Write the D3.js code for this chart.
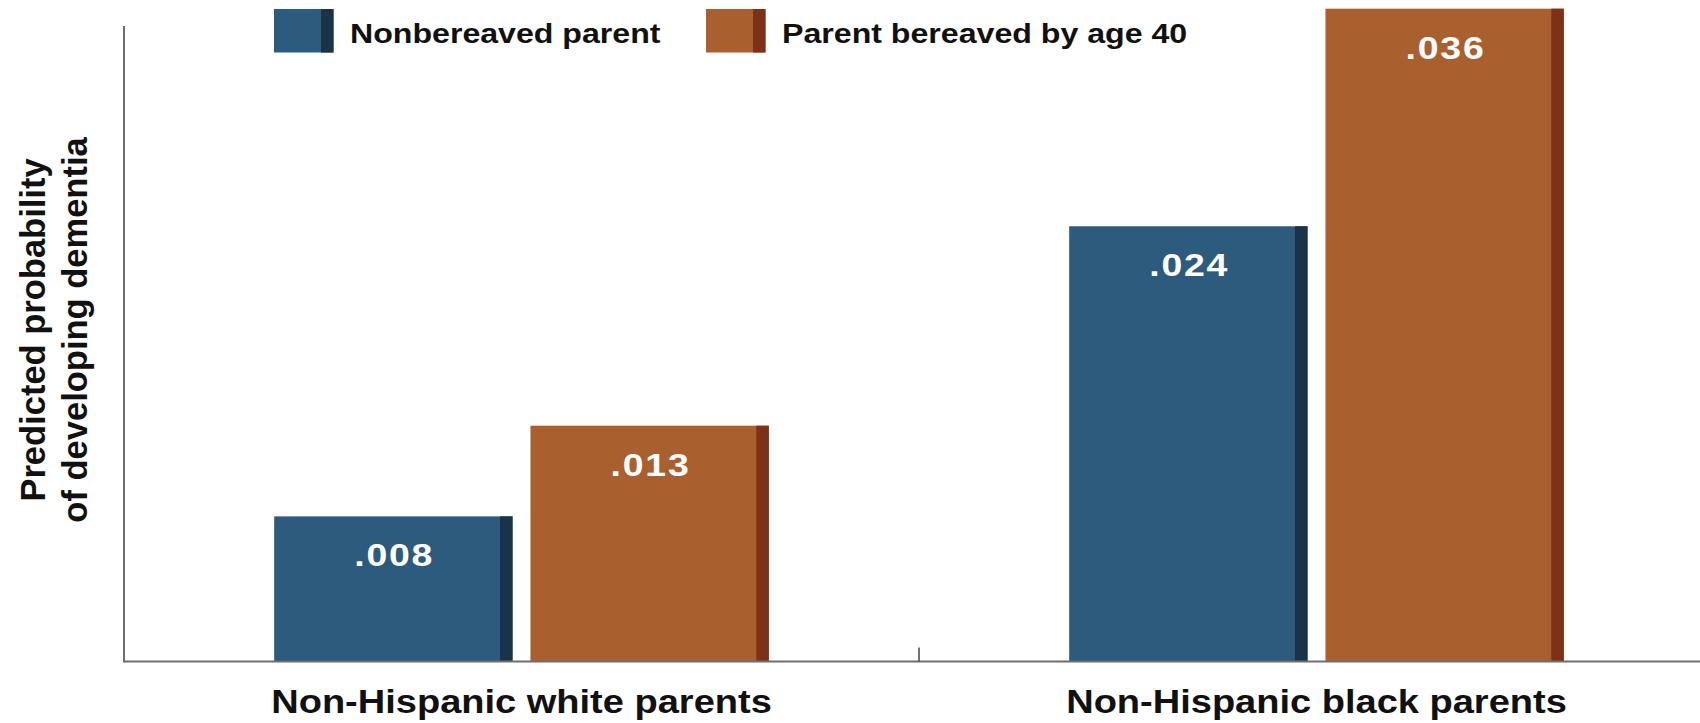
<!DOCTYPE html>
<html>
<head>
<meta charset="utf-8">
<script src="https://cdn.jsdelivr.net/npm/d3@7"></script>
<style>
  html, body { margin: 0; padding: 0; background: #fff; }
  svg { display: block; }
  text { font-family: "Liberation Sans", Arial, Helvetica, sans-serif; font-weight: bold; }
</style>
</head>
<body>
<svg id="chart" width="1700" height="723"></svg>
<script>
// ---- data ----
const groups = ["Non-Hispanic white parents", "Non-Hispanic black parents"];
const seriesNames = ["Nonbereaved parent", "Parent bereaved by age 40"];
const nonbereaved = [0.008, 0.024];
const bereaved = [0.013, 0.036];
const valueLabels = [[".008", ".013"], [".024", ".036"]];
const yTitleLines = ["Predicted probability", "of developing dementia"];

// ---- styles ----
const fills = ["#2d5b7e", "#aa5f2f"];
const stripes = ["#1b3349", "#7d3118"];
const axisColor = "#6e6e6e";

const svg = d3.select("#chart");

const x0 = d3.scaleBand().domain(groups).range([124, 1714]).paddingInner(0).paddingOuter(0);
const x1 = d3.scaleBand().domain(seriesNames).range([0, x0.bandwidth()])
  .paddingInner(0.07).paddingOuter(0.586);
const y = d3.scaleLinear().domain([0, 0.036]).range([661.4, 8.7]);
const yAxisTop = 26;

const rows = groups.map((g, i) => ({
  group: g,
  items: [
    { series: seriesNames[0], value: nonbereaved[i], label: valueLabels[i][0], k: 0 },
    { series: seriesNames[1], value: bereaved[i], label: valueLabels[i][1], k: 1 }
  ]
}));

// bars
const gGroups = svg.selectAll("g.grp").data(rows).join("g")
  .attr("class", "grp")
  .attr("transform", d => `translate(${x0(d.group)},0)`);

const bars = gGroups.selectAll("g.bar").data(d => d.items).join("g").attr("class", "bar");
const stripeW = 12.5;
bars.append("rect")
  .attr("x", d => x1(d.series))
  .attr("y", d => y(d.value))
  .attr("width", x1.bandwidth())
  .attr("height", d => y(0) - y(d.value))
  .attr("fill", d => fills[d.k]);
bars.append("rect")
  .attr("x", d => x1(d.series) + x1.bandwidth() - stripeW)
  .attr("y", d => y(d.value))
  .attr("width", stripeW)
  .attr("height", d => y(0) - y(d.value))
  .attr("fill", d => stripes[d.k]);
bars.append("g")
  .attr("transform", d => `translate(${x1(d.series) + x1.bandwidth() / 2},${y(d.value) + 50}) scale(1.17,1)`)
  .append("text")
  .attr("text-anchor", "middle")
  .attr("font-size", 32)
  .attr("letter-spacing", 1.5)
  .attr("dx", 0.75)
  .attr("fill", "#ffffff")
  .text(d => d.label);

// axes
svg.append("line")
  .attr("x1", x0.range()[0]).attr("x2", 1700)
  .attr("y1", y(0)).attr("y2", y(0))
  .attr("stroke", axisColor).attr("stroke-width", 2);
svg.append("line")
  .attr("x1", x0.range()[0]).attr("x2", x0.range()[0])
  .attr("y1", yAxisTop).attr("y2", y(0) + 1)
  .attr("stroke", axisColor).attr("stroke-width", 2);
// separator tick between groups
svg.append("line")
  .attr("x1", x0(groups[1])).attr("x2", x0(groups[1]))
  .attr("y1", y(0) - 14).attr("y2", y(0))
  .attr("stroke", "#444").attr("stroke-width", 1.5);

// category labels
svg.selectAll("g.cat").data(groups).join("g")
  .attr("class", "cat")
  .attr("transform", d => `translate(${x0(d) + x0.bandwidth() / 2},713) scale(1.17,1)`)
  .append("text")
  .attr("text-anchor", "middle")
  .attr("font-size", 32.5)
  .attr("fill", "#111")
  .text(d => d);

// y title
const yt = svg.append("text")
  .attr("transform", "translate(0,330) rotate(-90)")
  .attr("text-anchor", "middle")
  .attr("font-size", 34.5)
  .attr("fill", "#111");
yt.selectAll("tspan").data(yTitleLines).join("tspan")
  .attr("x", 0)
  .attr("y", (d, i) => 45 + i * 42)
  .text(d => d);

// legend
const legendX = [274, 706];
const leg = svg.selectAll("g.leg").data(seriesNames).join("g")
  .attr("class", "leg")
  .attr("transform", (d, i) => `translate(${legendX[i]},9)`);
leg.append("rect").attr("width", 59.5).attr("height", 43.5).attr("fill", (d, i) => fills[i]);
leg.append("rect").attr("x", 59.5 - 12.5).attr("width", 12.5).attr("height", 43.5).attr("fill", (d, i) => stripes[i]);
leg.append("g")
  .attr("transform", "translate(76,34.3) scale(1.19,1)")
  .append("text")
  .attr("font-size", 27)
  .attr("fill", "#111")
  .text(d => d);
</script>
</body>
</html>
